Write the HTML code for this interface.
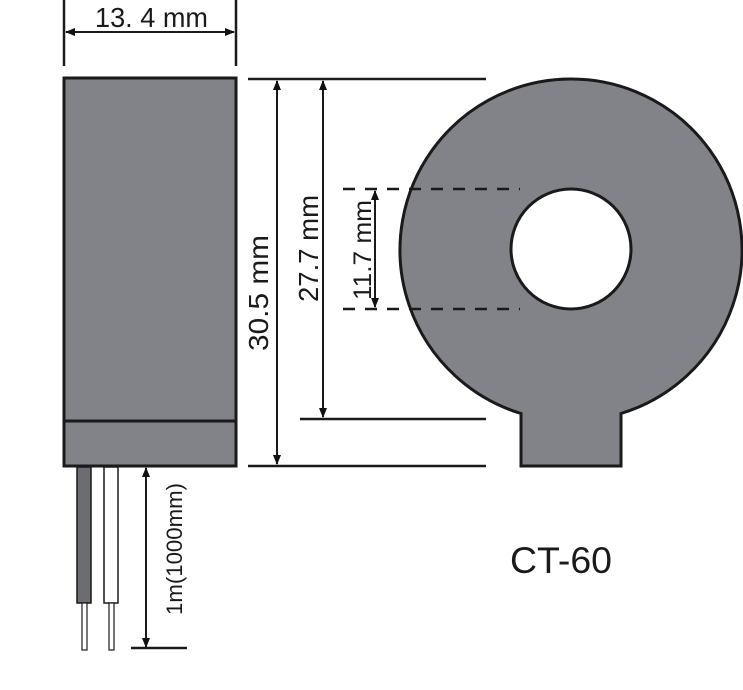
<!DOCTYPE html>
<html><head><meta charset="utf-8"><style>html,body{margin:0;padding:0;background:#fff}svg{display:block}</style></head>
<body>
<svg width="743" height="690" viewBox="0 0 743 690" xmlns="http://www.w3.org/2000/svg" font-family="Liberation Sans, Arial, sans-serif">
<defs>
<marker id="a" markerWidth="10" markerHeight="8" refX="9" refY="4" orient="auto-start-reverse" markerUnits="userSpaceOnUse">
<path d="M0,0 L10,4 L0,8 Z" fill="#111"/>
</marker>
</defs>
<g stroke="#1a1a1a" stroke-width="2.5" fill="none">
<line x1="64" y1="0" x2="64" y2="66"/>
<line x1="236" y1="0" x2="236" y2="66"/>
<line x1="66" y1="32" x2="234" y2="32" stroke-width="2" marker-start="url(#a)" marker-end="url(#a)"/>
<rect x="64" y="78" width="172" height="388" fill="#818389" stroke-width="3"/>
<line x1="64" y1="421" x2="236" y2="421" stroke-width="3"/>
<rect x="77" y="467" width="14" height="136" fill="#6b6d72" stroke-width="1.5"/>
<rect x="104" y="467" width="14" height="136" fill="#fff" stroke-width="1.5"/>
<rect x="82" y="603" width="5" height="47" fill="#fff" stroke-width="1.2"/>
<rect x="109" y="603" width="5" height="47" fill="#fff" stroke-width="1.2"/>
<line x1="146" y1="468" x2="146" y2="647" stroke-width="2" marker-start="url(#a)" marker-end="url(#a)"/>
<line x1="131" y1="648" x2="187" y2="648"/>
<line x1="248" y1="79" x2="486" y2="79"/>
<line x1="300" y1="419" x2="486" y2="419"/>
<line x1="248" y1="466" x2="486" y2="466"/>
<line x1="277" y1="81" x2="277" y2="464" stroke-width="2" marker-start="url(#a)" marker-end="url(#a)"/>
<line x1="323" y1="81" x2="323" y2="417" stroke-width="2" marker-start="url(#a)" marker-end="url(#a)"/>
<path d="M521,413.5 A171,171 0 1,1 621,413.5 L621,466 L521,466 Z" fill="#818389" stroke-width="3"/>
<circle cx="571" cy="249" r="60" fill="#fff" stroke-width="3"/>
<line x1="343" y1="189" x2="520" y2="189" stroke-dasharray="12,10"/>
<line x1="343" y1="309" x2="520" y2="309" stroke-dasharray="12,10"/>
<line x1="375" y1="191" x2="375" y2="307" stroke-width="2" marker-start="url(#a)" marker-end="url(#a)"/>
</g>
<g fill="#1a1a1a">
<text x="95" y="27" font-size="28" textLength="113" lengthAdjust="spacingAndGlyphs">13. 4 mm</text>
<text transform="translate(268,351) rotate(-90)" font-size="28" textLength="116" lengthAdjust="spacingAndGlyphs">30.5 mm</text>
<text transform="translate(318,302) rotate(-90)" font-size="28" textLength="107" lengthAdjust="spacingAndGlyphs">27.7 mm</text>
<text transform="translate(371,300) rotate(-90)" font-size="25" textLength="100" lengthAdjust="spacingAndGlyphs">11.7 mm</text>
<text transform="translate(182,615) rotate(-90)" font-size="22" textLength="132" lengthAdjust="spacingAndGlyphs">1m(1000mm)</text>
<text x="510" y="573" font-size="37" textLength="102" lengthAdjust="spacingAndGlyphs">CT-60</text>
</g>
</svg>
</body></html>
